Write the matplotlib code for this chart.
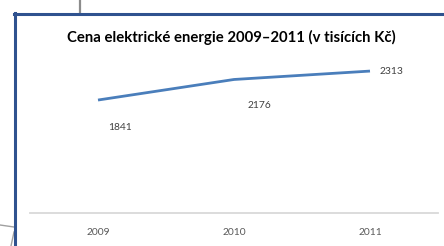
import matplotlib.pyplot as plt
from matplotlib.lines import Line2D

# data
years = ["2009", "2010", "2011"]
prices = [1841, 2176, 2313]

W, H = 444, 246
plt.rcParams['font.family'] = ['Lato', 'DejaVu Sans']

fig = plt.figure(figsize=(W / 100, H / 100), dpi=100)
fig.patch.set_facecolor("white")


def fx(x):
    return x / W


def fy(y):
    return 1 - y / H


# frame decorations (dark blue border, grey connectors)
fig.add_artist(Line2D([fx(80), fx(80)], [fy(0), fy(12)], color="#8c8c8c", lw=1.6))
fig.add_artist(Line2D([fx(0), fx(14)], [fy(225), fy(227)], color="#a0a0a0", lw=1.0))
fig.add_artist(Line2D([fx(14), fx(11)], [fy(232), fy(246)], color="#a0a0a0", lw=1.0))
fig.add_artist(Line2D([fx(15), fx(15)], [fy(13), fy(246)], color="#2f528f", lw=2.2))
fig.add_artist(Line2D([fx(14), fx(444)], [fy(13.5), fy(13.5)], color="#2f528f", lw=2.2))

ax = fig.add_axes([fx(30), fy(213), fx(438) - fx(30), fy(59.6) - fy(213)])
x = list(range(len(years)))
ax.plot(x, prices, color="#4a7ebb", lw=2.0, solid_capstyle="butt")
ax.set_xlim(-0.5, len(years) - 0.5)
ax.set_ylim(0, 2500)

for s in ["top", "right", "left"]:
    ax.spines[s].set_visible(False)
ax.spines["bottom"].set_color("#d9d9d9")
ax.spines["bottom"].set_linewidth(1.3)
ax.set_yticks([])
ax.set_xticks(x)
ax.set_xticklabels(years, fontsize=7.4, color="#595959")
ax.tick_params(axis="x", length=0, pad=11)

# data labels
offsets = [(22, -27, "center"), (25, -26, "center"), (10, 0, "left")]
for i, (dx, dy, ha) in enumerate(offsets):
    ax.annotate(str(prices[i]), (x[i], prices[i]), xytext=(dx, dy),
                textcoords="offset pixels", ha=ha, va="center",
                fontsize=7.4, color="#404040")

fig.text(fx(231), fy(37.5), "Cena elektrické energie 2009–2011 (v tisících Kč)",
         ha="center", va="center", fontsize=10.7, fontweight="bold", color="#000000")

fig.savefig("out.png", dpi=100)
